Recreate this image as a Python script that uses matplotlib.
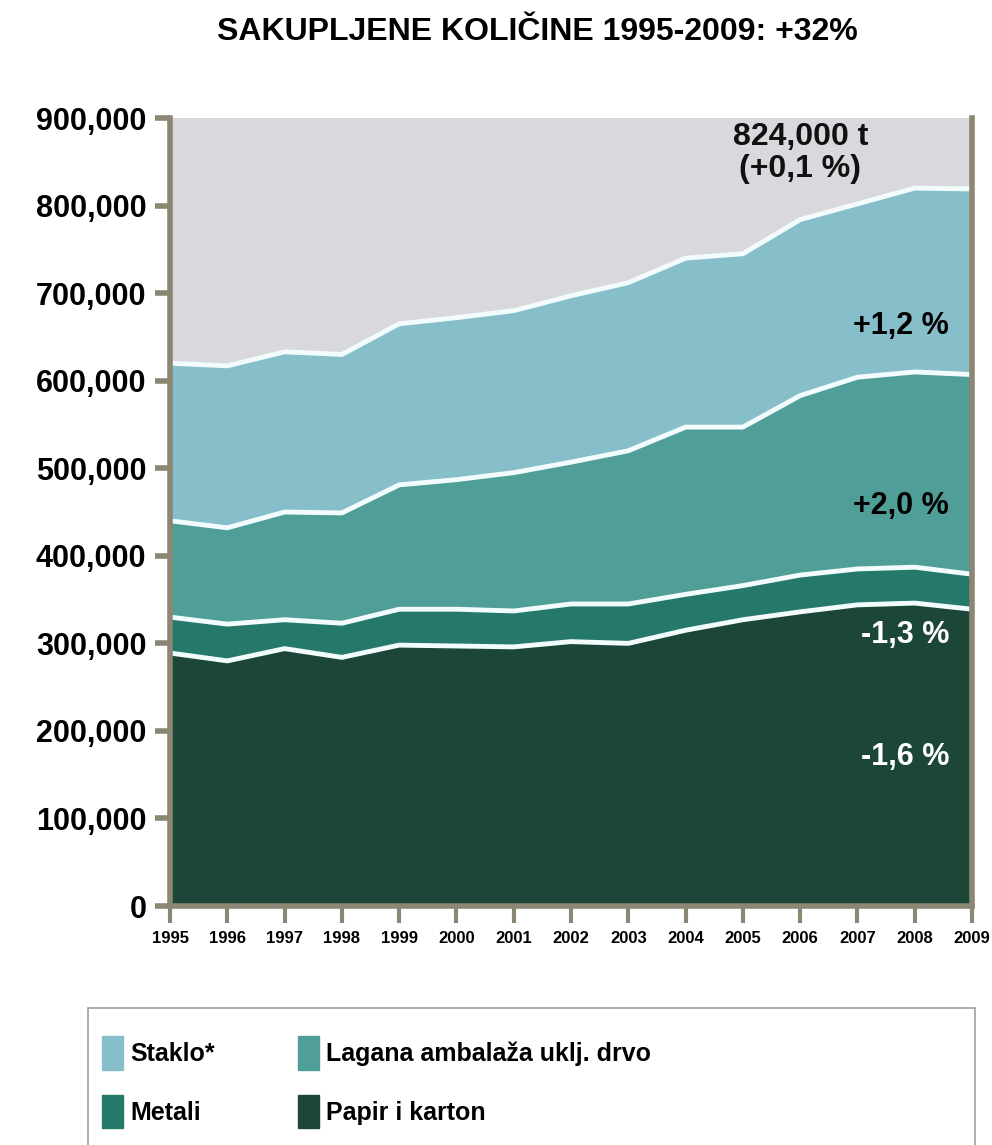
import numpy as np
import matplotlib.pyplot as plt
import matplotlib.patches as patches
from matplotlib.ticker import FuncFormatter

years = [1995, 1996, 1997, 1998, 1999, 2000, 2001, 2002, 2003, 2004, 2005, 2006, 2007, 2008, 2009]
papir = [289000, 280000, 294000, 284000, 298000, 297000, 296000, 302000, 300000, 315000, 327000, 336000, 344000, 346000, 339000]
metali = [41000, 42000, 33000, 39000, 41000, 42000, 41000, 43000, 45000, 41000, 39000, 42000, 41000, 41000, 40000]
lagana = [110000, 110000, 123000, 126000, 142000, 148000, 158000, 162000, 175000, 191000, 181000, 205000, 219000, 223000, 228000]
staklo = [180000, 185000, 183000, 181000, 184000, 185000, 185000, 190000, 192000, 193000, 198000, 201000, 198000, 210000, 212000]

series_names = ['Papir i karton', 'Metali', 'Lagana ambalaža uklj. drvo', 'Staklo*']
series_colors = ['#1c4638', '#24796b', '#509e98', '#86bfca']
growth_labels = ['-1,6 %', '-1,3 %', '+2,0 %', '+1,2 %']
title = 'SAKUPLJENE KOLIČINE 1995-2009: +32%'
total_label = '824,000 t\n(+0,1 %)'

spine_col = '#8b8772'
line_col = '#f2fcfc'

fig = plt.figure(figsize=(9.92, 11.45), dpi=100)
ax = fig.add_axes([0.1714, 0.2087, 0.8085, 0.6882])
ax.set_facecolor('#d9d8dc')

data = [papir, metali, lagana, staklo]
ax.stackplot(years, *data, colors=series_colors, linewidth=0)
cum = np.cumsum(np.array(data), axis=0)
for row in cum:
    ax.plot(years, row, color=line_col, lw=3.5, solid_joinstyle='round')

ax.set_xlim(years[0], years[-1])
ax.set_ylim(0, 900000)
ax.set_xticks(years)
ax.set_yticks(np.arange(0, 900001, 100000))
ax.yaxis.set_major_formatter(FuncFormatter(lambda v, p: f'{int(v):,}'))

for s in ['left', 'right', 'bottom']:
    ax.spines[s].set_color(spine_col)
    ax.spines[s].set_linewidth(4)
ax.spines['top'].set_visible(False)

ax.tick_params(axis='y', direction='out', length=11, width=4, color=spine_col, pad=6)
ax.tick_params(axis='x', direction='out', length=12, width=3, color=spine_col, pad=6)
for lab in ax.get_yticklabels():
    lab.set_fontfamily('Liberation Sans')
    lab.set_fontweight('bold')
    lab.set_fontsize(22)
for lab in ax.get_xticklabels():
    lab.set_fontfamily('Liberation Sans')
    lab.set_fontweight('bold')
    lab.set_fontsize(12)

# growth labels at the right edge, centred in each layer
label_y = [170000, 310000, 457000, 662000]
label_col = ['white', 'white', 'black', 'black']
for txt, yv, c in zip(growth_labels, label_y, label_col):
    ax.text(2008.6, yv, txt, ha='right', va='center', fontsize=22,
            fontweight='bold', family='Liberation Sans', color=c)
ax.text(2006.0, 860000, total_label, ha='center', va='center', fontsize=23,
        fontweight='bold', family='Liberation Sans', color='#111111', linespacing=1.05)

fig.text(0.542, 0.972, title, ha='center', va='center', fontsize=23,
         fontweight='bold', family='Liberation Sans')

# legend box
box = patches.Rectangle((88 / 992, -0.02), (975 - 88) / 992, 0.02 + (1145 - 1008) / 1145,
                        transform=fig.transFigure, facecolor='white', edgecolor='#a0a0a0', lw=1.2)
fig.patches.append(box)
handles = [patches.Patch(color=series_colors[i]) for i in [3, 1, 2, 0]]
names = [series_names[i] for i in [3, 1, 2, 0]]
leg = fig.legend(handles, names, ncol=2, loc='upper left', bbox_to_anchor=(0.08, 0.115), frameon=False,
                 handlelength=0.85, handleheight=1.7, handletextpad=0.3, columnspacing=3.3,
                 labelspacing=1.0, prop={'family': 'Liberation Sans', 'weight': 'bold', 'size': 18})

fig.savefig('out.png', dpi=100)
